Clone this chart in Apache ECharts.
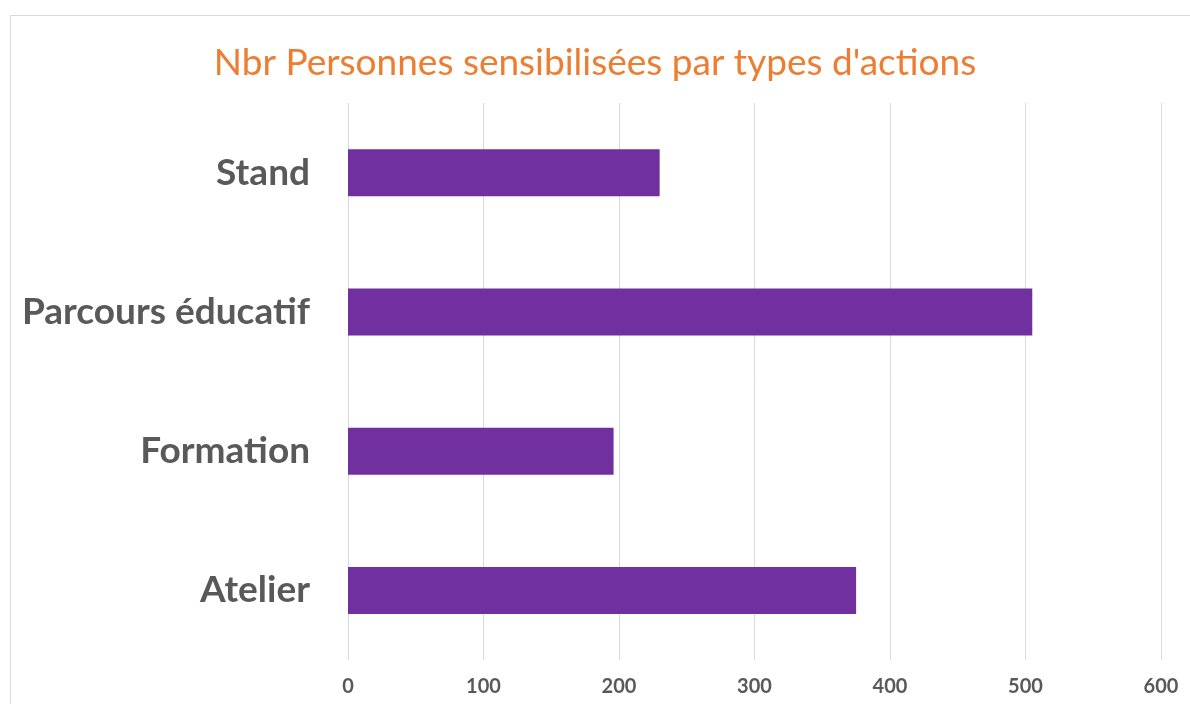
<!DOCTYPE html>
<html><head><meta charset="utf-8">
<script src="https://cdn.jsdelivr.net/npm/echarts@6/dist/echarts.min.js"></script>
<style>
html,body{margin:0;padding:0;background:#fff;}
#frame{position:absolute;left:10px;top:15px;width:1200px;height:720px;border-top:1px solid #d9d9d9;border-left:1px solid #d9d9d9;}
#chart{position:absolute;left:0;top:0;width:1190px;height:704px;}
</style></head>
<body>
<div id="frame"></div>
<div id="chart"></div>
<script>
const categories = ["Stand", "Parcours éducatif", "Formation", "Atelier"];
const values = [230, 505, 196, 375];
const xTicks = [0, 100, 200, 300, 400, 500, 600];

const chart = echarts.init(document.getElementById('chart'));
chart.setOption({
  backgroundColor: 'transparent',
  animation: false,
  title: {
    text: "Nbr Personnes sensibilisées par types d'actions",
    left: 'center', top: 40,
    textStyle: {color: '#ED7D31', fontSize: 37, fontWeight: 'normal', fontFamily: 'Lato'}
  },
  grid: {left: 348, right: 29, top: 103, bottom: 44},
  xAxis: {
    type: 'value', min: xTicks[0], max: xTicks[xTicks.length-1], interval: 100,
    axisLine: {show: false}, axisTick: {show: false},
    splitLine: {lineStyle: {color: '#d9d9d9', width: 1}},
    axisLabel: {color: '#595959', fontSize: 20, fontWeight: 'bold', fontFamily: 'Lato', margin: 17}
  },
  yAxis: {
    type: 'category', data: categories, inverse: true,
    axisLine: {show: false}, axisTick: {show: false},
    axisLabel: {color: '#595959', fontSize: 37, fontWeight: 'bold', fontFamily: 'Lato', margin: 38}
  },
  series: [{
    type: 'bar', data: values, barWidth: 47,
    itemStyle: {color: '#7030A0'}
  }]
});
</script>
</body></html>
